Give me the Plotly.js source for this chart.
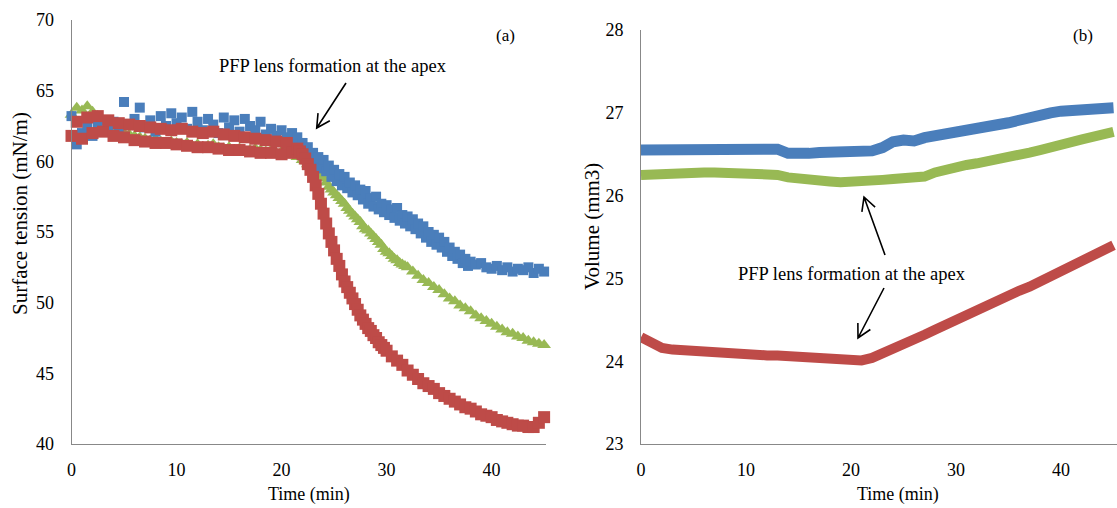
<!DOCTYPE html>
<html>
<head>
<meta charset="utf-8">
<script src="https://cdn.plot.ly/plotly-3.0.1.min.js"></script>
<style>html,body{margin:0;padding:0;background:#fff;}#chart{width:1117px;height:508px;}</style>
</head>
<body>
<div id="chart"></div>
<script>
// ---------- Data ----------
// Panel (a): surface tension (mN/m) vs time (min)
const timeBlueA = [0,0.5,1,1.5,2,2.5,3,3.5,4,4.5,5,5.5,6,6.5,7,7.5,8,8.5,9,9.5,10,10.5,11,11.5,12,12.5,13,13.5,14,14.5,15,15.5,16,16.5,17,17.5,18,18.5,19,19.5,20,20.5,
  21,21.25,21.5,21.75,22,22.25,22.5,22.75,23,23.25,23.5,23.75,24,24.25,24.5,24.75,25,25.25,25.5,25.75,26,26.25,26.5,26.75,27,27.25,27.5,27.75,28,28.25,28.5,28.75,29,29.25,29.5,29.75,30,30.25,30.5,30.75,31,31.25,31.5,31.75,32,32.25,32.5,32.75,33,33.25,33.5,33.75,34,34.25,34.5,34.75,35,35.25,35.5,35.75,36,36.25,36.5,36.75,37,37.25,37.5,37.75,38,
  38.5,39,39.5,40,40.5,41,41.5,42,42.5,43,43.5,44,44.5,45];
const tensionBlue = [63.2,61.2,62.0,62.6,61.8,62.5,62.9,62.2,62.8,62.3,64.2,62.6,63.0,63.8,62.4,62.9,62.1,63.2,62.5,63.4,62.7,63.1,62.3,63.5,62.8,62.2,63.0,62.6,62.0,63.1,62.4,62.9,62.1,63.0,62.5,62.2,62.8,61.9,62.3,61.8,62.2,61.7,
  62.0,61.4,61.7,61.0,61.3,60.7,61.0,60.3,60.6,59.9,60.3,59.5,60.1,59.3,59.7,58.9,59.4,58.6,59.1,58.3,58.9,58.1,58.5,57.8,58.3,57.6,58.0,57.3,57.9,57.0,57.4,56.8,57.5,56.6,57.0,56.4,56.9,56.2,56.6,56.0,56.7,55.8,56.2,55.6,56.1,55.4,55.9,55.2,55.6,54.9,55.4,54.6,55.0,54.3,54.8,54.1,54.6,53.9,54.3,53.6,53.9,53.3,53.6,53.1,53.4,52.8,53.1,52.6,52.9,
  52.7,52.8,52.5,52.4,52.6,52.3,52.5,52.2,52.4,52.3,52.5,52.1,52.4,52.2];

const timeGreenA = [0,0.5,1,1.5,2,2.5,3,3.5,4,4.5,5,5.5,6,6.5,7,7.5,8,8.5,9,9.5,10,10.5,11,11.5,12,12.5,13,13.5,14,14.5,15,15.5,16,16.5,17,17.5,18,18.5,19,19.5,20,20.5,21,21.5,
  22,22.25,22.5,22.75,23,23.25,23.5,23.75,24,24.25,24.5,24.75,25,25.25,25.5,25.75,26,26.25,26.5,26.75,27,27.25,27.5,27.75,28,28.25,28.5,28.75,29,29.25,29.5,29.75,30,30.25,30.5,30.75,31,31.25,31.5,31.75,32,
  32.5,33,33.5,34,34.5,35,35.5,36,36.5,37,37.5,38,38.5,39,39.5,40,40.5,41,41.5,42,42.5,43,43.5,44,44.5,45];
const tensionGreen = [63.3,63.8,63.6,63.9,63.5,63.2,62.8,62.6,62.4,62.2,62.0,61.9,61.8,61.7,61.6,61.5,61.6,61.4,61.3,61.4,61.3,61.2,61.3,61.1,61.2,61.0,61.1,61.2,61.0,60.9,61.0,60.8,60.9,60.7,60.8,60.9,60.8,60.7,60.8,60.6,60.7,60.6,60.5,60.3,
  60.1,60.0,59.8,59.6,59.5,59.3,59.2,59.0,58.8,58.5,58.2,58.0,57.8,57.6,57.4,57.2,57.0,56.7,56.5,56.3,56.1,55.9,55.7,55.4,55.2,55.1,54.9,54.7,54.5,54.3,54.1,53.8,53.6,53.5,53.3,53.1,53.0,52.8,52.7,52.6,52.5,
  52.2,51.9,51.6,51.4,51.1,50.9,50.6,50.3,50.1,49.8,49.6,49.4,49.1,48.9,48.7,48.5,48.3,48.1,47.9,47.8,47.6,47.5,47.3,47.2,47.1,47.0];

const timeRedA = [0,0.5,1,1.5,2,2.5,3,3.5,4,4.5,5,5.5,6,6.5,7,7.5,8,8.5,9,9.5,10,10.5,11,11.5,12,12.5,13,13.5,14,14.5,15,15.5,16,16.5,17,17.5,18,18.5,19,19.5,20,20.5,21,
  21.5,21.75,22,22.25,22.5,22.75,23,23.25,23.5,23.75,24,24.25,24.5,24.75,25,25.25,25.5,25.75,26,26.25,26.5,26.75,27,27.25,27.5,27.75,28,28.25,28.5,28.75,29,29.25,29.5,29.75,30,
  30.5,31,31.5,32,32.5,33,33.5,34,34.5,35,35.5,36,36.5,37,37.5,38,38.5,39,39.5,40,40.5,41,41.5,42,42.5,43,43.5,44,44.5,45];
const tensionRed = [61.8,62.8,61.6,63.1,62.0,63.2,62.1,62.9,61.8,62.7,61.7,62.6,61.5,62.5,61.4,62.4,61.3,62.3,61.3,62.2,61.2,62.3,61.1,62.1,61.0,62.0,61.0,62.1,60.9,61.9,60.8,61.8,60.8,61.7,60.7,61.6,60.6,61.5,60.6,61.4,60.5,61.3,60.6,
  60.9,60.7,60.5,60.2,59.8,59.4,58.9,58.3,57.7,57.0,56.3,55.6,54.9,54.3,53.7,53.1,52.6,52.0,51.5,51.1,50.7,50.3,49.9,49.5,49.1,48.8,48.5,48.2,48.0,47.7,47.5,47.2,47.0,46.8,46.6,
  46.2,45.9,45.6,45.2,44.9,44.6,44.3,44.1,43.9,43.6,43.4,43.2,43.0,42.8,42.6,42.5,42.3,42.1,42.0,41.9,41.7,41.6,41.5,41.4,41.3,41.3,41.2,41.2,41.5,41.9];

// Panel (b): drop volume (mm3) vs time (min)
const timeB = [0,1,2,3,4,5,6,7,8,9,10,11,12,13,14,15,16,17,18,19,20,21,22,23,24,25,26,27,28,29,30,31,32,33,34,35,36,37,38,39,40,41,42,43,44,45];
const volumeBlue = [26.55,26.55,26.55,26.54,26.55,26.55,26.55,26.55,26.55,26.55,26.55,26.55,26.56,26.56,26.51,26.50,26.51,26.52,26.52,26.52,26.53,26.53,26.54,26.58,26.65,26.67,26.66,26.70,26.72,26.74,26.75,26.77,26.80,26.82,26.85,26.88,26.91,26.95,26.98,27.00,27.02,27.03,27.04,27.05,27.05,27.06];
const volumeGreen = [26.25,26.26,26.27,26.27,26.27,26.28,26.28,26.28,26.28,26.28,26.28,26.28,26.27,26.25,26.22,26.20,26.19,26.18,26.17,26.16,26.16,26.16,26.17,26.19,26.20,26.21,26.22,26.23,26.28,26.32,26.35,26.37,26.39,26.41,26.43,26.45,26.48,26.52,26.55,26.59,26.62,26.65,26.68,26.71,26.74,26.77];
const volumeRed = [24.29,24.22,24.16,24.14,24.13,24.12,24.12,24.11,24.10,24.10,24.09,24.08,24.07,24.07,24.06,24.06,24.06,24.05,24.05,24.04,24.02,24.01,24.04,24.09,24.14,24.20,24.26,24.32,24.38,24.44,24.50,24.56,24.63,24.70,24.75,24.80,24.85,24.90,24.96,25.02,25.08,25.14,25.20,25.27,25.33,25.40];

const yTicksA = [40,45,50,55,60,65,70];
const yTicksB = [23,24,25,26,27,28];
const xTicks = [0,10,20,30,40];
const annotText = 'PFP lens formation at the apex';

// ---------- Styling ----------
const W = 1117, H = 508;
const FONT = 'Liberation Serif, Times New Roman, serif';
const BLUE = '#4A7EBB', RED = '#BE4B48', GREEN = '#98B954';
const px = x => x / W;
const py = y => 1 - y / H;

const traces = [
  {x: timeGreenA, y: tensionGreen, xaxis: 'x', yaxis: 'y', mode: 'markers', type: 'scatter', cliponaxis: false,
   marker: {symbol: 'triangle-up', size: 12, color: GREEN}},
  {x: timeBlueA, y: tensionBlue, xaxis: 'x', yaxis: 'y', mode: 'markers', type: 'scatter', cliponaxis: false,
   marker: {symbol: 'square', size: 10, color: BLUE}},
  {x: timeRedA, y: tensionRed, xaxis: 'x', yaxis: 'y', mode: 'markers', type: 'scatter', cliponaxis: false,
   marker: {symbol: 'square', size: 12, color: RED}},
  {x: timeB, y: volumeBlue, xaxis: 'x2', yaxis: 'y2', mode: 'lines', type: 'scatter', cliponaxis: false,
   line: {color: BLUE, width: 11}},
  {x: timeB, y: volumeGreen, xaxis: 'x2', yaxis: 'y2', mode: 'lines', type: 'scatter', cliponaxis: false,
   line: {color: GREEN, width: 10}},
  {x: timeB, y: volumeRed, xaxis: 'x2', yaxis: 'y2', mode: 'lines', type: 'scatter', cliponaxis: false,
   line: {color: RED, width: 10}}
];

const axisCommon = {
  showgrid: false, zeroline: false, showline: true, linecolor: '#888888', linewidth: 1,
  ticks: '', tickfont: {family: FONT, size: 18, color: '#000'}, fixedrange: true
};

const ann = (text, x, y, size, extra) => Object.assign({
  text: text, xref: 'paper', yref: 'paper', x: px(x), y: py(y), xanchor: 'center', yanchor: 'middle',
  showarrow: false, font: {family: FONT, size: size, color: '#000'}
}, extra || {});

const layout = {
  width: W, height: H, showlegend: false,
  margin: {l: 0, r: 0, t: 0, b: 0},
  paper_bgcolor: '#fff', plot_bgcolor: 'rgba(0,0,0,0)',
  font: {family: FONT, color: '#000'},
  xaxis: Object.assign({}, axisCommon, {domain: [px(71.5), px(545.7)], range: [0, 45.15], tickvals: xTicks, anchor: 'y', ticklabelstandoff: 9}),
  yaxis: Object.assign({}, axisCommon, {domain: [py(444), py(20)], range: [40, 70], tickvals: yTicksA, anchor: 'x', ticklabelstandoff: 13}),
  xaxis2: Object.assign({}, axisCommon, {domain: [px(641), 1], range: [0, 45.33], tickvals: xTicks, anchor: 'y2', ticklabelstandoff: 9}),
  yaxis2: Object.assign({}, axisCommon, {domain: [py(444), py(30)], range: [23, 28], tickvals: yTicksB, anchor: 'x2', ticklabelstandoff: 13}),
  annotations: [
    ann('Time (min)', 309, 494, 18),
    ann('Time (min)', 898, 494, 18),
    ann('Surface tension (mN/m)', 20, 214, 21, {textangle: -90}),
    ann('Volume (mm3)', 592, 227, 21, {textangle: -90}),
    ann('(a)', 505, 36, 17),
    ann('(b)', 1083, 36, 17),
    ann(annotText, 332.5, 66, 18.5),
    ann(annotText, 852, 274, 18.5)
  ],
  shapes: []
};

// Arrows (tail -> tip) with open V heads, in pixel coordinates
function arrow(x1, y1, x2, y2) {
  const ang = Math.atan2(y2 - y1, x2 - x1);
  const L = 15, a = 28 * Math.PI / 180;
  const hx1 = x2 - L * Math.cos(ang - a), hy1 = y2 - L * Math.sin(ang - a);
  const hx2 = x2 - L * Math.cos(ang + a), hy2 = y2 - L * Math.sin(ang + a);
  const p = (x, y) => px(x).toFixed(5) + ',' + py(y).toFixed(5);
  layout.shapes.push({type: 'path', xref: 'paper', yref: 'paper',
    path: 'M' + p(x1, y1) + ' L' + p(x2, y2) + ' M' + p(hx1, hy1) + ' L' + p(x2, y2) + ' L' + p(hx2, hy2),
    line: {color: '#000', width: 1.6}});
}
arrow(346, 83, 316.7, 128);
arrow(885, 255, 864, 197);
arrow(884, 288, 858, 338);

Plotly.newPlot('chart', traces, layout, {displayModeBar: false, staticPlot: true});
</script>
</body>
</html>
